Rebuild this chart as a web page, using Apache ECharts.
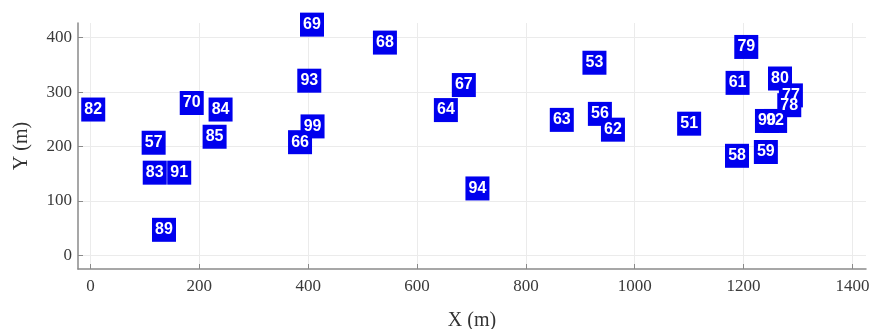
<!DOCTYPE html>
<html>
<head>
<meta charset="utf-8">
<script src="https://cdn.jsdelivr.net/npm/echarts@6/dist/echarts.min.js"></script>
<style>html,body{margin:0;padding:0;background:#fff;}#chart{width:872px;height:329px;}</style>
</head>
<body>
<div id="chart"></div>
<script>
const labels = ['82','70','84','85','57','83','91','89','69','93','99','66','68','67','64','94','53','63','56','62','51','79','61','80','77','78','90','92','59','58'];
const xValues = [5,186,239,228,116,118,163,135,407,402,408,385,541,686,653,711,926,866,936,960,1100,1205,1189,1267,1287,1284,1243,1258,1241,1188];
const yValues = [268,280,268,218,207,152,152,47,424,321,237,208,391,313,267,123,354,249,260,231,242,383,317,325,294,276,247,247,190,183];
const xTicks = [0,200,400,600,800,1000,1200,1400];
const yTicks = [0,100,200,300,400];

const chart = echarts.init(document.getElementById('chart'));
const data = labels.map((l, i) => ({name: l, value: [xValues[i], yValues[i]]}));
const axisColor = '#8a8a8a';
const serif = 'Liberation Serif';
chart.setOption({
  animation: false,
  grid: {left: 78, right: 6, top: 23, bottom: 60, containLabel: false, outerBoundsMode: 'none'},
  xAxis: {
    type: 'value', min: -23, max: 1425,
    name: 'X (m)', nameLocation: 'middle', nameGap: 42,
    nameTextStyle: {fontFamily: serif, fontSize: 20, color: '#333'},
    axisLine: {show: true, onZero: false, lineStyle: {color: axisColor, width: 1.5}},
    axisTick: {show: true, inside: true, length: 5, customValues: xTicks, lineStyle: {color: axisColor}},
    axisLabel: {customValues: xTicks, fontFamily: serif, fontSize: 17, color: '#3a3a3a', margin: 9,
      formatter: v => String(v)},
    splitLine: {show: true, lineStyle: {color: '#ebebeb', width: 1}}
  },
  yAxis: {
    type: 'value', min: -25, max: 427,
    name: 'Y (m)', nameLocation: 'middle', nameGap: 46,
    nameTextStyle: {fontFamily: serif, fontSize: 20, color: '#333'},
    axisLine: {show: true, onZero: false, lineStyle: {color: axisColor, width: 1.5}},
    axisTick: {show: true, inside: true, length: 5, customValues: yTicks, lineStyle: {color: axisColor}},
    axisLabel: {customValues: yTicks, fontFamily: serif, fontSize: 17, color: '#3a3a3a', margin: 6,
      formatter: v => String(v)},
    splitLine: {show: true, lineStyle: {color: '#ebebeb', width: 1}}
  },
  series: [{
    type: 'scatter',
    symbol: 'rect',
    symbolSize: [24, 24],
    itemStyle: {color: '#0000ee', opacity: 1},
    label: {
      show: true, position: 'inside', formatter: '{b}',
      color: '#fff', fontSize: 16, fontWeight: 'bold', fontFamily: 'Liberation Sans'
    },
    emphasis: {disabled: true},
    data: data
  }]
});
</script>
</body>
</html>
